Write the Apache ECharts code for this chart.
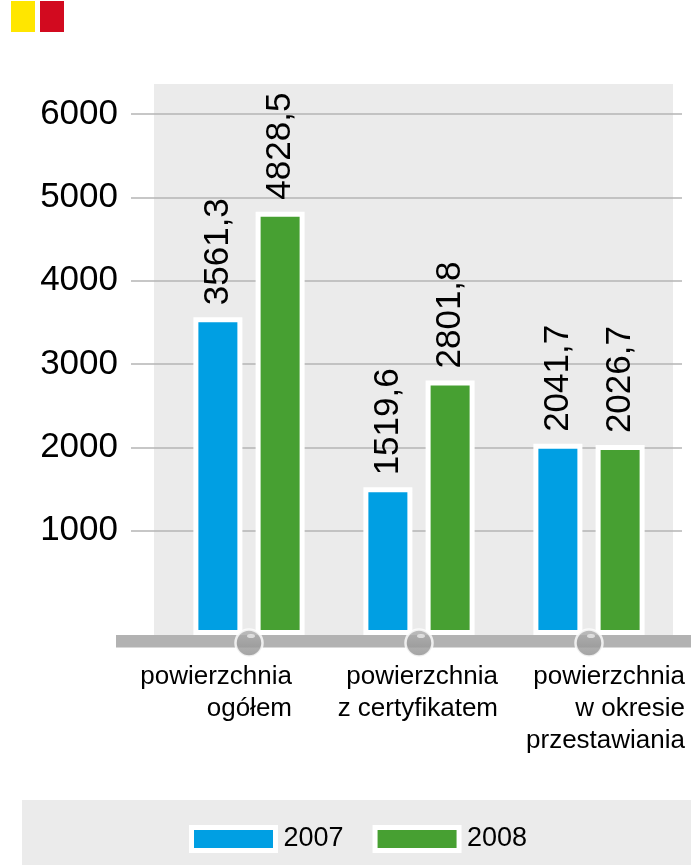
<!DOCTYPE html>
<html>
<head>
<meta charset="utf-8">
<script src="https://cdn.jsdelivr.net/npm/echarts@6/dist/echarts.min.js"></script>
<style>
  html, body { margin: 0; padding: 0; background: #fff; }
  #chart { width: 691px; height: 865px; }
</style>
</head>
<body>
<div id="chart"></div>
<script>
// dane wykresu
var categories = ['powierzchnia\nogółem', 'powierzchnia\nz certyfikatem', 'powierzchnia\nw okresie\nprzestawiania'];
var years = ['2007', '2008'];
var values2007 = [3561.3, 1519.6, 2041.7];
var values2008 = [4828.5, 2801.8, 2026.7];
var yTicks = [1000, 6000, 1000]; // min, max, krok

var FONT = '"Liberation Sans", Arial, sans-serif';
var BLUE = '#009fe3';
var GREEN = '#47a032';
var BASE = -252; // poziom osi pod slupkami

function fmt(v) {
  return String(v.toFixed(1)).replace('.', ',');
}

var chart = echarts.init(document.getElementById('chart'));

var barLabel = {
  show: true,
  position: 'top',
  rotate: 90,
  align: 'left',
  verticalAlign: 'middle',
  distance: 12,
  fontSize: 35,
  fontFamily: FONT,
  color: '#000',
  formatter: function (p) { return fmt(p.value); }
};

var catStyle = function (w) {
  return { width: w, align: 'right', fontSize: 26, lineHeight: 32, color: '#000', fontFamily: FONT };
};

var option = {
  animation: false,
  textStyle: { fontFamily: FONT },
  graphic: [
    { type: 'rect', shape: { x: 11, y: 1, width: 24, height: 31 }, style: { fill: '#ffe600' } },
    { type: 'rect', shape: { x: 40, y: 1, width: 24, height: 31 }, style: { fill: '#d20a1f' } },
    { type: 'rect', z: 0, shape: { x: 154, y: 84, width: 519, height: 551 }, style: { fill: '#ebebeb' } },
    { type: 'rect', z: 10, shape: { x: 116, y: 635, width: 575, height: 12.5 }, style: { fill: '#b2b2b2' } },
    { type: 'rect', z: 0, shape: { x: 22, y: 800, width: 669, height: 65 }, style: { fill: '#ebebeb' } }
  ],
  legend: {
    data: years,
    left: 184,
    top: 820,
    icon: 'rect',
    itemWidth: 84,
    itemHeight: 23,
    itemGap: 29,
    itemStyle: { borderColor: '#fff', borderWidth: 5 },
    textStyle: { fontSize: 27, color: '#000', fontFamily: FONT, padding: [0, 0, 0, 3] }
  },
  grid: [
    { left: 131, right: 9, top: 114, bottom: 334.3 },
    { left: 164, width: 510, top: 114, bottom: 230 }
  ],
  xAxis: [
    { gridIndex: 0, type: 'category', data: categories, show: false },
    {
      gridIndex: 1,
      type: 'category',
      data: categories,
      axisLine: { show: false },
      axisTick: { show: false },
      axisLabel: {
        margin: 26,
        align: 'left',
        interval: 0,
        formatter: function (v, i) { return '{g' + i + '|' + v + '}'; },
        rich: { g0: catStyle(43), g1: catStyle(79), g2: catStyle(96) }
      }
    }
  ],
  yAxis: [
    {
      gridIndex: 0,
      type: 'value',
      z: 1,
      min: yTicks[0],
      max: yTicks[1],
      interval: yTicks[2],
      axisLine: { show: false },
      axisTick: { show: false },
      axisLabel: {
        fontSize: 35, color: '#000', margin: 13, fontFamily: FONT,
        formatter: function (v) { return String(v); }
      },
      splitLine: { lineStyle: { color: '#b4b4b4', width: 1.5 } }
    },
    {
      gridIndex: 1,
      type: 'value',
      min: BASE,
      max: yTicks[1],
      startValue: BASE,
      show: false,
      splitLine: { show: false }
    }
  ],
  series: [
    {
      name: years[0],
      type: 'bar',
      xAxisIndex: 1,
      yAxisIndex: 1,
      data: values2007,
      barWidth: 49,
      barGap: '27%',
      itemStyle: { color: BLUE, borderColor: '#fff', borderWidth: 5 },
      label: barLabel
    },
    {
      name: years[1],
      type: 'bar',
      xAxisIndex: 1,
      yAxisIndex: 1,
      data: values2008,
      barWidth: 49,
      barGap: '27%',
      itemStyle: { color: GREEN, borderColor: '#fff', borderWidth: 5 },
      label: barLabel
    },
    {
      type: 'scatter',
      xAxisIndex: 1,
      yAxisIndex: 1,
      z: 20,
      clip: false,
      silent: true,
      symbol: 'circle',
      symbolSize: 27,
      symbolOffset: [0, 8],
      data: categories.map(function (c) { return [c, BASE]; }),
      itemStyle: {
        color: new echarts.graphic.LinearGradient(0, 0, 0, 1, [
          { offset: 0, color: '#b3b3b3' },
          { offset: 1, color: '#8a8a8a' }
        ]),
        borderColor: '#fff',
        borderWidth: 2.5
      }
    },
    {
      // odblask na kulkach osi
      type: 'scatter',
      xAxisIndex: 1,
      yAxisIndex: 1,
      z: 21,
      clip: false,
      silent: true,
      symbol: 'circle',
      symbolSize: [8, 4],
      symbolOffset: [2, 1],
      data: categories.map(function (c) { return [c, BASE]; }),
      itemStyle: { color: 'rgba(255,255,255,0.75)' }
    }
  ]
};

chart.setOption(option);
</script>
</body>
</html>
